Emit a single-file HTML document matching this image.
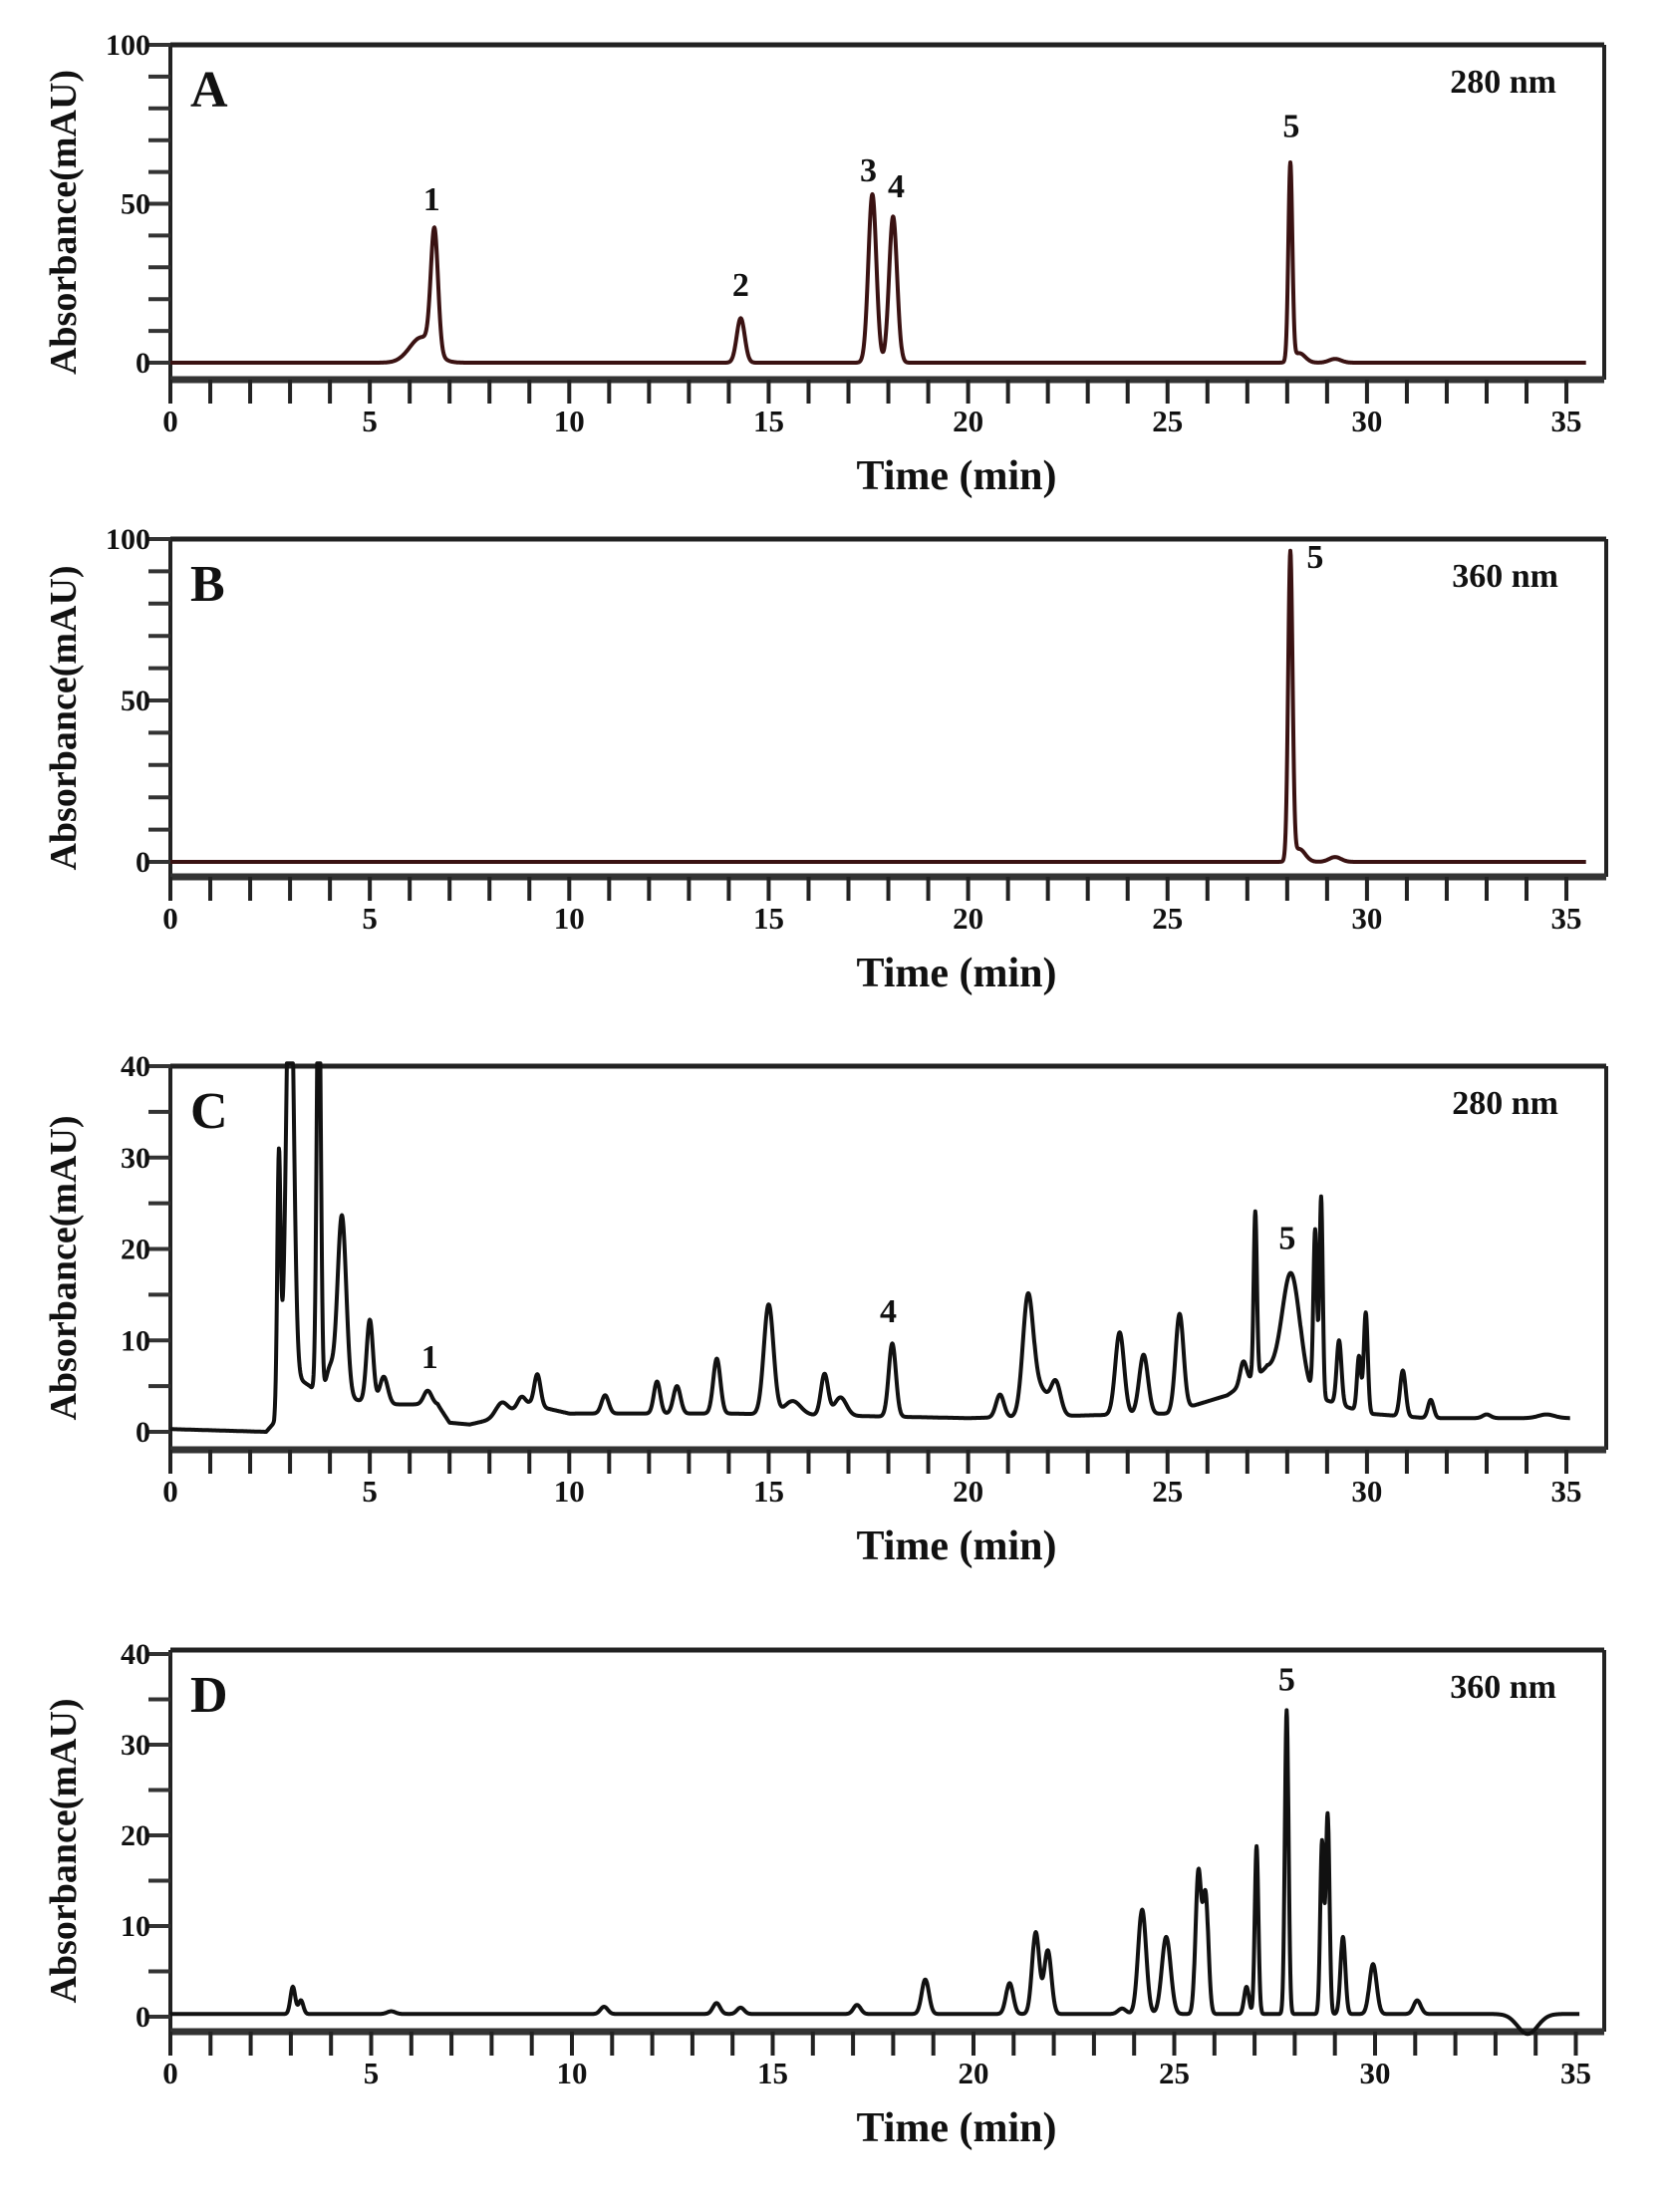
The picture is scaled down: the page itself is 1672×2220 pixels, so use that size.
<!DOCTYPE html>
<html><head><meta charset="utf-8"><style>
html,body{margin:0;padding:0;background:#fff}
svg text{font-family:"Liberation Serif",serif;font-weight:bold;fill:#111}
</style></head><body>
<svg id="s" width="1672" height="2215" viewBox="0 0 1672 2215" xmlns="http://www.w3.org/2000/svg"></svg>
<script>
const S=document.getElementById('s');let out='';
function g(t,c,h,w){return h*Math.exp(-0.5*((t-c)/w)**2);}
function lin(pts,t){if(t<=pts[0][0])return pts[0][1];for(let i=1;i<pts.length;i++){if(t<=pts[i][0]){const a=pts[i-1],b=pts[i];return a[1]+(b[1]-a[1])*(t-a[0])/(b[0]-a[0]);}}return pts[pts.length-1][1];}
function panel(P){
 const {x0,ppm,top,axis,y0,ppu,right,ymax,ystep,minor,color,fn,tend,letter,nm,labels,xend}=P;
 const X=t=>x0+t*ppm, Y=v=>y0-v*ppu;
 out+=`<line x1="${x0}" y1="${top}" x2="${right}" y2="${top}" stroke="#222" stroke-width="5"/>`;
 out+=`<line x1="${right}" y1="${top}" x2="${right}" y2="${axis}" stroke="#222" stroke-width="4"/>`;
 out+=`<line x1="${x0}" y1="${top}" x2="${x0}" y2="${axis+22}" stroke="#222" stroke-width="4"/>`;
 out+=`<line x1="${x0}" y1="${axis}" x2="${right}" y2="${axis}" stroke="#333" stroke-width="7"/>`;
 for(let t=0;t<=xend;t++){out+=`<line x1="${X(t)}" y1="${axis}" x2="${X(t)}" y2="${axis+24}" stroke="#222" stroke-width="4"/>`;}
 for(let t=0;t<=35;t+=5){out+=`<text x="${X(t)}" y="${axis+52}" font-size="31" text-anchor="middle">${t}</text>`;}
 for(let v=0;v<=ymax;v+=minor){out+=`<line x1="${x0-22}" y1="${Y(v)}" x2="${x0}" y2="${Y(v)}" stroke="#333" stroke-width="4"/>`;}
 for(let v=0;v<=ymax;v+=ystep){out+=`<text x="${x0-20}" y="${Y(v)+10}" font-size="30" text-anchor="end">${v}</text>`;}
 out+=`<text x="960" y="${axis+110}" font-size="42" text-anchor="middle">Time (min)</text>`;
 const cy=(top+axis)/2+10;
 out+=`<text transform="translate(76,${cy}) rotate(-90)" font-size="38" text-anchor="middle">Absorbance(mAU)</text>`;
 out+=`<text x="${x0+20}" y="${top+62}" font-size="52">${letter}</text>`;
 out+=`<text x="${right-48}" y="${top+48}" font-size="34" text-anchor="end">${nm}</text>`;
 let d='';for(let t=0;t<=tend;t+=0.01){let v=fn(t);v=Math.min(v,ymax+0.3);d+=(d?'L':'M')+X(t).toFixed(1)+','+Y(v).toFixed(1);}
 out+=`<path d="${d}" fill="none" stroke="${color}" stroke-width="4" stroke-linejoin="round"/>`;
 labels.forEach(l=>{out+=`<text x="${X(l[0])}" y="${Y(l[1])}" font-size="34" text-anchor="middle">${l[2]}</text>`;});
}
function fA(t){return g(t,6.62,38,0.09)+g(t,6.3,8,0.3)+g(t,14.3,14,0.1)+g(t,17.6,53,0.1)+g(t,18.12,46,0.1)+g(t,28.08,62,0.05)+g(t,28.3,3,0.15)+g(t,29.2,1.2,0.15);}
function fB(t){return g(t,28.08,95,0.055)+g(t,28.3,4,0.15)+g(t,29.2,1.5,0.15);}
const bgC=[[0,0.3],[2.4,0],[2.6,1],[2.8,7],[3.5,5],[3.7,4],[4.6,3.5],[5.4,3],[6.7,3],[7.0,1],[7.5,0.8],[8.2,1.5],[9,3],[10,2],[14,2],[20,1.5],[25,2],[26.5,4],[27.5,7],[28.6,4],[30,2],[31.5,1.5],[35,1.5]];
const pC=[[2.72,26,0.04],[3.0,50,0.09],[3.72,50,0.05],[4.3,20,0.11],[4.0,3,0.1],[5.0,9,0.08],[5.35,3,0.1],[6.45,1.5,0.1],[8.3,1.5,0.15],[8.8,1.2,0.1],[9.2,3.5,0.08],[10.9,2,0.09],[12.2,3.5,0.08],[12.7,3,0.09],[13.7,6,0.09],[15.0,12,0.12],[15.6,1.5,0.2],[16.4,4.5,0.09],[16.8,2,0.15],[18.1,8,0.09],[20.8,2.5,0.1],[21.5,12.5,0.13],[21.8,3,0.2],[22.2,3.5,0.12],[23.8,9,0.11],[24.4,6.5,0.11],[25.3,10.5,0.1],[26.9,2.5,0.08],[27.2,18,0.04],[28.1,12,0.22],[28.7,18,0.045],[28.85,22,0.04],[29.3,7,0.06],[29.8,6,0.05],[29.97,11,0.05],[30.9,5,0.07],[31.6,2,0.07],[33,0.4,0.1],[34.5,0.4,0.2]];
function fC(t){let v=lin(bgC,t);pC.forEach(p=>v+=g(t,p[0],p[1],p[2]));return v;}
const pD=[[3.05,3,0.06],[3.25,1.5,0.06],[5.5,0.3,0.1],[10.8,0.8,0.09],[13.6,1.2,0.09],[14.2,0.7,0.09],[17.1,1,0.09],[18.8,3.8,0.09],[20.9,3.4,0.09],[21.55,9,0.09],[21.85,7,0.09],[23.7,0.6,0.1],[24.2,11.5,0.1],[24.8,8.5,0.11],[25.6,15.5,0.07],[25.78,13,0.07],[26.8,3,0.06],[27.05,18.5,0.045],[27.8,33.5,0.045],[28.68,19,0.045],[28.82,22,0.045],[29.2,8.5,0.06],[29.95,5.5,0.09],[31.05,1.5,0.09],[33.8,-2.2,0.25]];
function fD(t){let v=0.3;pD.forEach(p=>v+=g(t,p[0],p[1],p[2]));return v;}
panel({x0:171,ppm:40.03,top:45,axis:381,y0:364,ppu:3.19,right:1610,ymax:100,ystep:50,minor:10,color:"#3a1212",fn:fA,tend:35.5,letter:"A",nm:"280 nm",xend:35,
 labels:[[6.55,48,"1"],[14.3,21,"2"],[17.5,57,"3"],[18.2,52,"4"],[28.1,71,"5"]]});
panel({x0:171,ppm:40.03,top:541,axis:880,y0:865,ppu:3.24,right:1612,ymax:100,ystep:50,minor:10,color:"#3a1212",fn:fB,tend:35.5,letter:"B",nm:"360 nm",xend:35,
 labels:[[28.7,91,"5"]]});
panel({x0:171,ppm:40.03,top:1070,axis:1455,y0:1437,ppu:9.175,right:1612,ymax:40,ystep:10,minor:5,color:"#111",fn:fC,tend:35.1,letter:"C",nm:"280 nm",xend:35,
 labels:[[6.5,7,"1"],[18.0,12,"4"],[28.0,20,"5"]]});
panel({x0:171,ppm:40.3,top:1656,axis:2039,y0:2024,ppu:9.1,right:1610,ymax:40,ystep:10,minor:5,color:"#111",fn:fD,tend:35.1,letter:"D",nm:"360 nm",xend:35,
 labels:[[27.8,36,"5"]]});
S.innerHTML=out;
</script>
</body></html>
